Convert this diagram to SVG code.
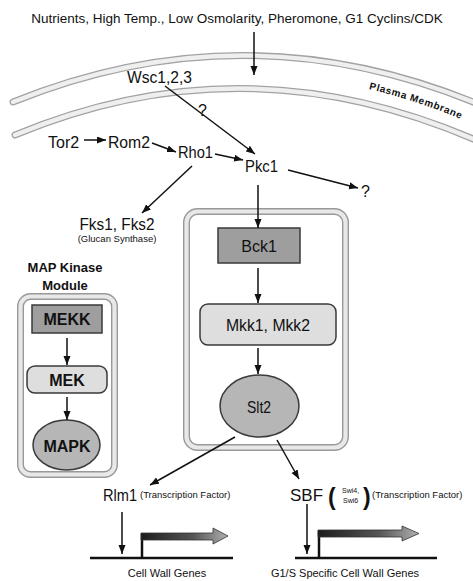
<svg xmlns="http://www.w3.org/2000/svg" width="473" height="581" viewBox="0 0 473 581">
<style>
text{font-family:"Liberation Sans",Arial,sans-serif;fill:#111}
.lbl{font-size:16px}
.bold{font-weight:bold}
.small{font-size:9.5px}
.band-o{fill:none;stroke:#a2a2a2;stroke-width:7;stroke-linecap:round}
.band-i{fill:none;stroke:#efefef;stroke-width:4.4;stroke-linecap:round}
.box-o{fill:none;stroke:#999;stroke-width:7}
.box-i{fill:none;stroke:#e8e8e8;stroke-width:4.2}
.dark{fill:#9e9e9e;stroke:#3a3a3a;stroke-width:1.5}
.light{fill:#dedede;stroke:#3a3a3a;stroke-width:1.5}
.mid{fill:#b6b6b6;stroke:#3a3a3a;stroke-width:1.5}
.conn{fill:none;stroke:#111;stroke-width:1.5}
.gene{fill:none;stroke:#111;stroke-width:2.5}
</style>
<defs>
<marker id="ah" markerUnits="userSpaceOnUse" markerWidth="10" markerHeight="8" refX="9" refY="3.5" orient="auto">
<path d="M0,0 L9,3.5 L0,7 z" fill="#111"/>
</marker>
<linearGradient id="pg" x1="0" y1="0" x2="1" y2="0">
<stop offset="0" stop-color="#1c1c1c"/>
<stop offset="0.6" stop-color="#555"/>
<stop offset="1" stop-color="#b0b0b0"/>
</linearGradient>
<path id="memtext" d="M360,87 Q418,100 470,123"/>
</defs>
<rect width="473" height="581" fill="#fff"/>

<g id="membrane">
<path class="band-o" d="M13,102 Q245,8 478,104"/>
<path class="band-i" d="M13,102 Q245,8 478,104"/>
<path class="band-o" d="M15,135 Q245,39 478,141"/>
<path class="band-i" d="M15,135 Q245,39 478,141"/>
<text class="bold" font-size="10" letter-spacing="0.6"><textPath href="#memtext" startOffset="9">Plasma Membrane</textPath></text>
</g>

<g id="signals">
<text x="237" y="23" font-size="13.5" text-anchor="middle">Nutrients, High Temp., Low Osmolarity, Pheromone, G1 Cyclins/CDK</text>
</g>

<g id="wsc"><text class="lbl" x="127" y="83" textLength="65" lengthAdjust="spacingAndGlyphs">Wsc1,2,3</text></g>
<g id="q1"><text class="lbl" x="198" y="116">?</text></g>
<g id="tor2"><text class="lbl" x="48" y="148">Tor2</text></g>
<g id="rom2"><text class="lbl" x="108" y="148" textLength="42" lengthAdjust="spacingAndGlyphs">Rom2</text></g>
<g id="rho1"><text class="lbl" x="178" y="158" textLength="35" lengthAdjust="spacingAndGlyphs">Rho1</text></g>
<g id="pkc1"><text class="lbl" x="245" y="172" textLength="33" lengthAdjust="spacingAndGlyphs">Pkc1</text></g>
<g id="q2"><text class="lbl" x="361" y="197">?</text></g>
<g id="fks">
<text class="lbl" x="117" y="230" text-anchor="middle" textLength="75" lengthAdjust="spacingAndGlyphs">Fks1, Fks2</text>
<text class="small" x="117" y="242" text-anchor="middle">(Glucan Synthase)</text>
</g>

<g id="pkc-module">
<rect class="box-o" x="186.5" y="211.5" width="159" height="236" rx="11"/>
<rect class="box-i" x="186.5" y="211.5" width="159" height="236" rx="11"/>
</g>
<g id="bck1">
<rect class="dark" x="218" y="228" width="82" height="35"/>
<text class="lbl" x="259" y="252" text-anchor="middle">Bck1</text>
</g>
<g id="mkk">
<rect class="light" x="200" y="304" width="136" height="41" rx="8"/>
<text class="lbl" x="268" y="331" text-anchor="middle" textLength="84" lengthAdjust="spacingAndGlyphs">Mkk1, Mkk2</text>
</g>
<g id="slt2">
<ellipse class="mid" cx="259.5" cy="406" rx="39.5" ry="31"/>
<text x="259" y="413" font-size="17" text-anchor="middle" textLength="24" lengthAdjust="spacingAndGlyphs">Slt2</text>
</g>

<g id="map-module">
<text class="bold" x="65" y="272" font-size="13" text-anchor="middle">MAP Kinase</text>
<text class="bold" x="65" y="290" font-size="13" text-anchor="middle">Module</text>
<rect class="box-o" x="20.5" y="296.5" width="94" height="178" rx="10"/>
<rect class="box-i" x="20.5" y="296.5" width="94" height="178" rx="10"/>
</g>
<g id="mekk">
<rect class="dark" x="32" y="305" width="70" height="28"/>
<text class="bold" x="67" y="325" font-size="16" text-anchor="middle">MEKK</text>
</g>
<g id="mek">
<rect class="light" x="27" y="366" width="80" height="27" rx="8"/>
<text class="bold" x="67" y="386" font-size="16" text-anchor="middle">MEK</text>
</g>
<g id="mapk">
<ellipse class="mid" cx="66.5" cy="445" rx="33.5" ry="25"/>
<text class="bold" x="67" y="452" font-size="16" text-anchor="middle">MAPK</text>
</g>

<g id="rlm1">
<text x="103" y="501" font-size="17" textLength="34" lengthAdjust="spacingAndGlyphs">Rlm1</text>
<text class="small" x="140" y="498">(Transcription Factor)</text>
</g>
<g id="sbf">
<text x="290" y="501" font-size="17" textLength="33" lengthAdjust="spacingAndGlyphs">SBF</text>
<text class="bold" x="328" y="505" font-size="23">(</text>
<text x="342" y="493" font-size="7">Swi4,</text>
<text x="343" y="503" font-size="7">Swi6</text>
<text class="bold" x="363" y="505" font-size="23">)</text>
<text class="small" x="372" y="498">(Transcription Factor)</text>
</g>

<g id="gene1">
<line class="gene" x1="90" y1="558" x2="233" y2="558"/>
<polyline class="gene" points="142,558 142,533.5"/>
<path d="M141,533 L213,533 L213,528 L228,536 L213,544 L213,540 L141,540 z" fill="url(#pg)" stroke="#333" stroke-width="0.8"/>
<text x="167" y="577" font-size="11" text-anchor="middle">Cell Wall Genes</text>
</g>
<g id="gene2">
<line class="gene" x1="295" y1="558" x2="437" y2="558"/>
<polyline class="gene" points="319,558 319,530.5"/>
<path d="M318,530 L402,530 L402,526 L419,533.5 L402,541 L402,537 L318,537 z" fill="url(#pg)" stroke="#333" stroke-width="0.8"/>
<text x="345" y="577" font-size="11" text-anchor="middle">G1/S Specific Cell Wall Genes</text>
</g>

<g id="connectors">
<line class="conn" x1="254" y1="32" x2="254" y2="75" marker-end="url(#ah)"/>
<line class="conn" x1="165" y1="86" x2="255" y2="154" marker-end="url(#ah)"/>
<line class="conn" x1="84" y1="140" x2="106" y2="140" marker-end="url(#ah)"/>
<line class="conn" x1="152" y1="143" x2="176" y2="152" marker-end="url(#ah)"/>
<line class="conn" x1="215" y1="154" x2="243" y2="160" marker-end="url(#ah)"/>
<line class="conn" x1="192" y1="166" x2="142" y2="213" marker-end="url(#ah)"/>
<line class="conn" x1="288" y1="170" x2="358" y2="188" marker-end="url(#ah)"/>
<line class="conn" x1="258" y1="185" x2="258" y2="228" marker-end="url(#ah)"/>
<line class="conn" x1="258" y1="268" x2="258" y2="303" marker-end="url(#ah)"/>
<line class="conn" x1="258" y1="348" x2="258" y2="374" marker-end="url(#ah)"/>
<line class="conn" x1="67" y1="338" x2="67" y2="365" marker-end="url(#ah)"/>
<line class="conn" x1="67" y1="397" x2="67" y2="420" marker-end="url(#ah)"/>
<line class="conn" x1="235" y1="437" x2="150" y2="485" marker-end="url(#ah)"/>
<line class="conn" x1="277" y1="440" x2="299" y2="479" marker-end="url(#ah)"/>
<line class="conn" x1="122" y1="512" x2="122" y2="554" marker-end="url(#ah)"/>
<line class="conn" x1="307" y1="504" x2="307" y2="554" marker-end="url(#ah)"/>
</g>
</svg>
